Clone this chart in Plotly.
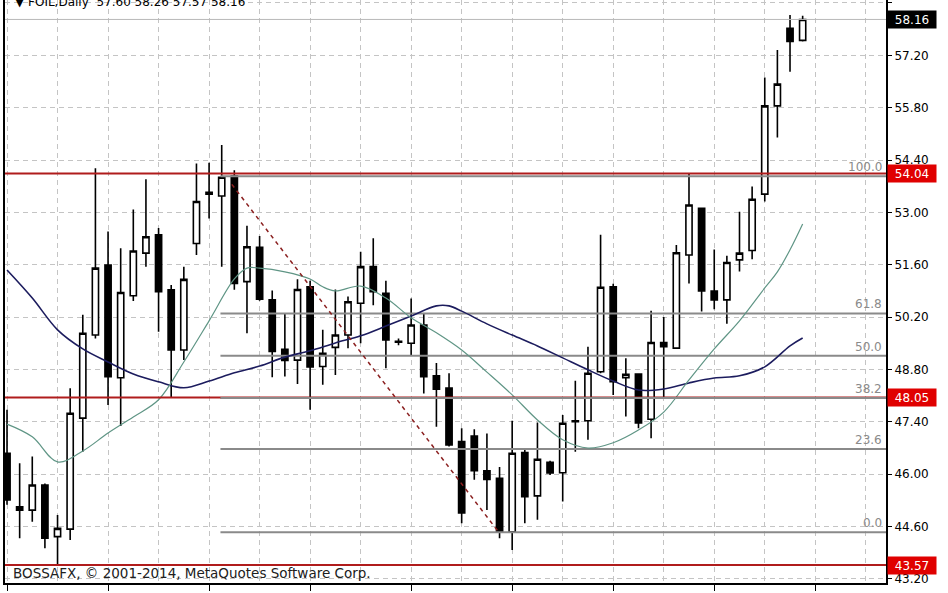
import plotly.graph_objects as go

# ---- candle data (index = bar number) ----
bars = list(range(64))
opens = [46.56, 45.13, 45.04, 45.71, 44.33, 44.53, 47.50, 49.72, 51.59, 48.58,
         50.77, 51.91, 52.40, 50.93, 49.32, 52.17, 53.54, 53.44, 53.97, 51.15,
         52.07, 50.66, 49.34, 49.05, 51.01, 48.88, 49.39, 49.72, 50.57, 51.55,
         50.84, 49.55, 49.50, 49.99, 48.63, 48.30, 46.87, 47.02, 46.09, 45.89,
         44.46, 46.58, 45.42, 46.32, 46.04, 47.43, 47.43, 48.74, 51.01, 48.58,
         48.68, 47.47, 49.52, 49.37, 51.86, 53.11, 50.90, 50.66, 51.73, 51.98,
         53.49, 55.85, 57.92, 57.60]
highs = [47.72, 46.29, 46.47, 45.75, 44.91, 48.30, 50.26, 54.18, 52.49, 52.04,
         53.08, 53.89, 52.58, 51.06, 51.55, 54.31, 54.33, 54.80, 54.13, 52.64,
         52.37, 50.91, 50.28, 51.21, 51.17, 49.86, 50.94, 50.75, 51.95, 52.31,
         51.17, 49.63, 50.70, 50.30, 48.97, 48.70, 47.23, 47.20, 47.09, 46.19,
         47.43, 46.65, 47.38, 46.36, 47.58, 48.50, 49.41, 52.40, 51.09, 49.10,
         48.70, 50.37, 50.20, 52.13, 54.05, 53.13, 52.01, 51.84, 53.02, 53.69,
         56.61, 57.34, 58.28, 58.26]
lows = [45.18, 44.29, 44.73, 44.02, 43.57, 44.24, 46.60, 49.63, 47.85, 47.29,
        50.63, 51.55, 49.81, 48.05, 49.05, 51.86, 52.84, 51.55, 50.93, 49.77,
        50.64, 48.59, 48.61, 48.41, 47.72, 48.39, 48.65, 49.37, 49.50, 50.52,
        48.83, 49.45, 49.19, 48.16, 47.27, 46.74, 44.69, 45.85, 45.04, 44.29,
        43.97, 44.69, 44.78, 45.98, 45.27, 46.60, 46.92, 48.70, 48.12, 47.54,
        47.23, 46.96, 48.03, 49.35, 51.10, 50.35, 50.41, 50.02, 51.42, 51.75,
        53.29, 55.00, 56.76, 57.57]
closes = [45.31, 45.04, 45.71, 44.29, 44.55, 47.63, 49.77, 51.51, 48.61, 50.86,
          51.97, 52.35, 50.88, 49.32, 51.21, 53.29, 53.49, 53.94, 51.10, 52.08,
          50.68, 49.28, 49.04, 50.94, 48.87, 49.23, 49.72, 50.61, 51.55, 50.88,
          49.59, 49.53, 49.99, 48.61, 48.27, 46.78, 44.96, 46.09, 45.86, 44.46,
          46.56, 45.40, 46.40, 46.03, 47.36, 47.40, 48.70, 51.00, 48.47, 48.67,
          47.37, 49.52, 49.41, 51.92, 53.20, 50.90, 50.66, 51.66, 51.91, 53.35,
          55.85, 56.43, 57.57, 58.16]

# ---- moving averages ----
slow_ma_x = [0, 2, 4, 6, 8, 10, 12, 14, 16, 18, 20, 22, 24, 26, 28, 30, 32, 34, 35,
             36, 38, 40, 42, 44, 46, 48, 50, 52, 54, 56, 58, 60, 62, 63]
slow_ma_y = [51.46, 50.71, 49.86, 49.35, 49.00, 48.68, 48.47, 48.31, 48.49, 48.71,
             48.89, 49.13, 49.30, 49.51, 49.70, 49.96, 50.23, 50.50, 50.50,
             50.36, 50.02, 49.72, 49.43, 49.11, 48.79, 48.49, 48.25, 48.28, 48.44,
             48.57, 48.63, 48.87, 49.43, 49.64]
fast_ma_x = [0, 2, 4, 6, 8, 10, 12, 14, 16, 18, 19, 20, 22, 24, 25, 26, 28, 30, 32,
             34, 36, 38, 40, 42, 44, 46, 48, 50, 52, 54, 56, 58, 60, 61, 62, 63]
fast_ma_y = [47.34, 47.00, 46.33, 46.62, 47.10, 47.53, 47.99, 49.00, 50.10, 51.22,
             51.51, 51.51, 51.41, 51.22, 51.01, 50.90, 51.03, 50.71, 50.18,
             49.78, 49.32, 48.73, 48.12, 47.45, 46.92, 46.70, 46.84, 47.18, 47.66,
             48.52, 49.35, 50.10, 50.98, 51.41, 52.00, 52.69]

# ---- drawn objects ----
fib_levels = [44.45, 46.67, 48.04, 49.17, 50.30, 53.97]
fib_labels = ["0.0", "23.6", "38.2", "50.0", "61.8", "100.0"]
fib_start = 16.9
fib_trend_x = [17.8, 39.0]
fib_trend_y = [53.75, 44.42]
red_levels = [54.04, 48.05, 43.57]
bid_price = 58.16

header = "▼ FOIL,Daily  57.60 58.26 57.57 58.16"
copyright_text = "BOSSAFX, © 2001-2014, MetaQuotes Software Corp."

X_MIN, X_MAX = -0.16, 69.6
Y_MIN, Y_MAX = 43.09, 58.68
FONT = "DejaVu Sans"

fig = go.Figure()

# Fibonacci levels (background)
for lv in fib_levels:
    fig.add_trace(go.Scatter(x=[fib_start, X_MAX], y=[lv, lv], mode="lines",
                             line=dict(color="#8a8a8a", width=2),
                             hoverinfo="skip", showlegend=False))

# Bid line
fig.add_trace(go.Scatter(x=[X_MIN, X_MAX], y=[bid_price, bid_price], mode="lines",
                         line=dict(color="#b8b8b8", width=1),
                         hoverinfo="skip", showlegend=False))

fig.add_trace(go.Candlestick(
    x=bars, open=opens, high=highs, low=lows, close=closes,
    increasing=dict(line=dict(color="black", width=1.6), fillcolor="white"),
    decreasing=dict(line=dict(color="black", width=1.6), fillcolor="black"),
    whiskerwidth=0, showlegend=False))

# Moving averages
fig.add_trace(go.Scatter(x=slow_ma_x, y=slow_ma_y, mode="lines",
                         line=dict(color="#1c1c5e", width=1.6, shape="spline"),
                         hoverinfo="skip", showlegend=False))
fig.add_trace(go.Scatter(x=fast_ma_x, y=fast_ma_y, mode="lines",
                         line=dict(color="#5f9585", width=1.2, shape="spline"),
                         hoverinfo="skip", showlegend=False))

# Fibo trend line
fig.add_trace(go.Scatter(x=fib_trend_x, y=fib_trend_y, mode="lines",
                         line=dict(color="#8b2020", width=1.5, dash="4px,4px"),
                         hoverinfo="skip", showlegend=False))

# Red horizontal lines
for lv in red_levels:
    fig.add_trace(go.Scatter(x=[X_MIN, X_MAX], y=[lv, lv], mode="lines",
                             line=dict(color="#b01c1c", width=2),
                             hoverinfo="skip", showlegend=False))
# Fibo 38.2 over the red 48.05 line right of the anchor
fig.add_trace(go.Scatter(x=[fib_start, X_MAX], y=[fib_levels[2], fib_levels[2]], mode="lines",
                         line=dict(color="#8a8a8a", width=2),
                         hoverinfo="skip", showlegend=False))

annotations = []
for lv, lab in zip(fib_levels, fib_labels):
    annotations.append(dict(x=1, xref="paper", y=lv, yref="y", text=lab,
                            xanchor="right", yanchor="bottom", xshift=-2, yshift=0,
                            showarrow=False,
                            font=dict(family=FONT, size=12, color="#8a8a8a")))
for lv in red_levels:
    annotations.append(dict(x=1, xref="paper", y=lv, yref="y", text=f"{lv:.2f}",
                            xanchor="left", yanchor="middle", xshift=1,
                            showarrow=False, bgcolor="#e00000", width=46, height=15,
                            align="center",
                            font=dict(family=FONT, size=12, color="white")))
annotations.append(dict(x=1, xref="paper", y=bid_price, yref="y", text=f"{bid_price:.2f}",
                        xanchor="left", yanchor="middle", xshift=1,
                        showarrow=False, bgcolor="black", width=46, height=15,
                        align="center",
                        font=dict(family=FONT, size=12, color="white")))
annotations.append(dict(x=0, xref="paper", y=1, yref="paper", text=header,
                        xanchor="left", yanchor="middle", xshift=8, yshift=-2,
                        showarrow=False,
                        font=dict(family=FONT, size=12, color="black")))
annotations.append(dict(x=0, xref="paper", y=43.35, yref="y", text=copyright_text,
                        xanchor="left", yanchor="middle", xshift=6,
                        showarrow=False,
                        font=dict(family=FONT, size=13.5, color="#202020")))

fig.update_layout(
    width=948, height=593,
    margin=dict(l=5, r=62, t=0, b=10),
    paper_bgcolor="white", plot_bgcolor="white",
    showlegend=False,
    annotations=annotations,
    xaxis=dict(range=[X_MIN, X_MAX], rangeslider=dict(visible=False),
               tickvals=list(range(0, 70, 4)), showticklabels=False, ticks="",
               showgrid=True, gridcolor="#c4c4c4", gridwidth=1, griddash="5px,4px",
               zeroline=False, showline=True, linecolor="black", linewidth=2,
               minor=dict(tickvals=list(range(0, 70, 8)), ticks="outside",
                          ticklen=6, tickcolor="black", showgrid=False)),
    yaxis=dict(range=[Y_MIN, Y_MAX], side="right", tick0=43.2, dtick=1.4,
               tickformat=".2f", ticks="outside", ticklen=4, tickcolor="black",
               showgrid=True, gridcolor="#c4c4c4", gridwidth=1, griddash="5px,4px",
               zeroline=False, showline=True, mirror=True, linecolor="black", linewidth=2,
               tickfont=dict(family=FONT, size=12, color="black")),
)

fig.write_html("out.html", config={"displayModeBar": False},
               post_script="document.body.style.margin='0';document.body.style.overflow='hidden';")
